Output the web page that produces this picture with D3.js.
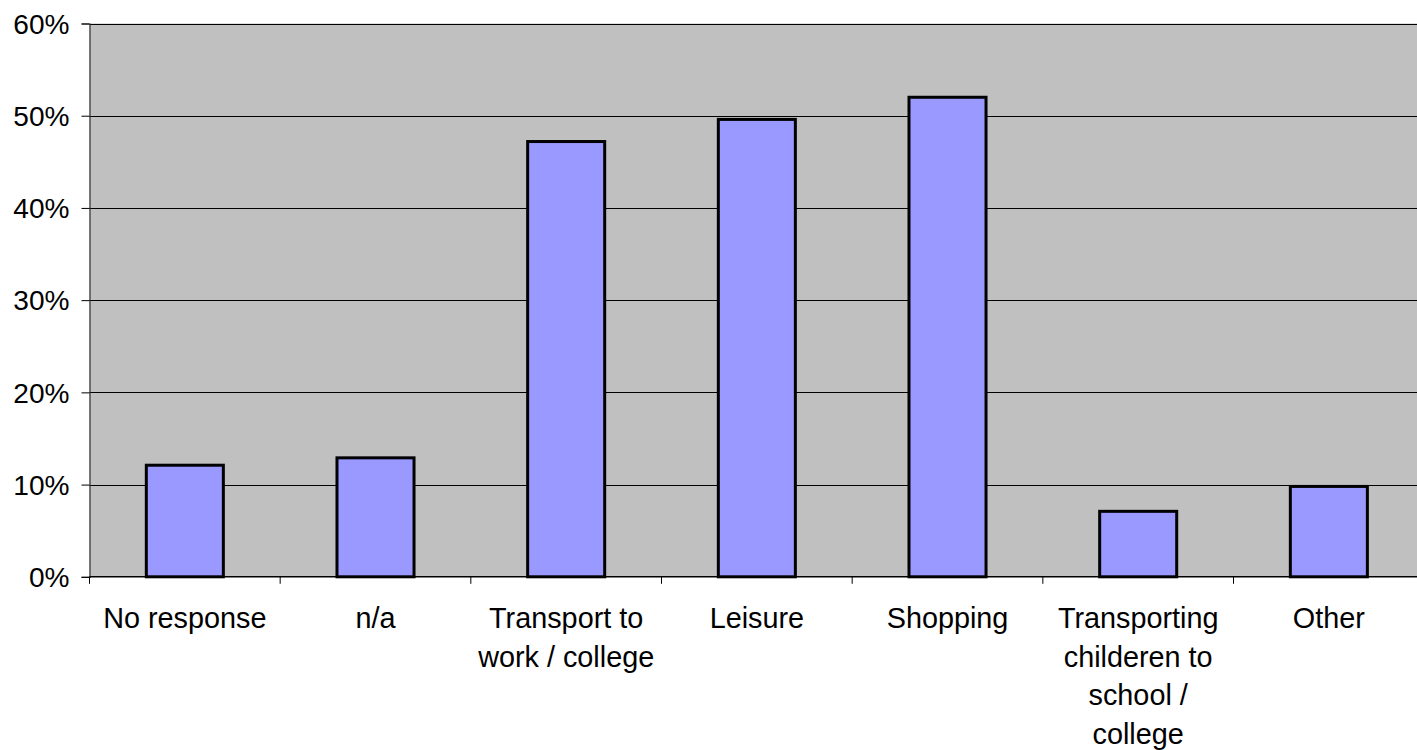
<!DOCTYPE html>
<html>
<head>
<meta charset="utf-8">
<script src="https://cdn.jsdelivr.net/npm/d3@7"></script>
<style>
  body { margin: 0; background: #fff; }
  svg { display: block; font-family: "Liberation Sans", Arial, sans-serif; }
</style>
</head>
<body>
<svg id="chart" width="1417" height="750"></svg>
<script>
"use strict"

// data
var categories = ["No response", "n/a", "Transport to work / college", "Leisure", "Shopping", "Transporting childeren to school / college", "Other"];
var shares = [12.1, 12.9, 47.2, 49.6, 52.0, 7.1, 9.8];
var yTicks = [0, 10, 20, 30, 40, 50, 60];

var svg = d3.select("#chart"),
    plotLeft = 89.5,
    plotTop = 23.5,
    plotBottom = 576.8,
    step = 190.67,
    plotRight = plotLeft + step * categories.length;

var x = d3.scaleBand().domain(categories).range([plotLeft, plotRight]).padding(0);
var y = d3.scaleLinear().domain([0, 60]).range([plotBottom, plotTop]);
var barW = x.bandwidth() * 0.404;

// plot area
svg.append("rect")
    .attr("x", plotLeft).attr("y", plotTop)
    .attr("width", plotRight - plotLeft).attr("height", plotBottom - plotTop)
    .style("fill", "#c0c0c0");

// gridlines
svg.append("g").selectAll("line")
    .data(yTicks.filter(function (d) { return d > 0; }))
    .join("line")
    .attr("x1", plotLeft).attr("x2", plotRight)
    .attr("y1", function (d) { return Math.round(y(d)) + 0.5; })
    .attr("y2", function (d) { return Math.round(y(d)) + 0.5; })
    .style("stroke", "#000").style("stroke-width", 1);

// bars
svg.append("g").selectAll("rect")
    .data(categories)
    .join("rect")
    .attr("x", function (d) { return x(d) + (x.bandwidth() - barW) / 2; })
    .attr("y", function (d, i) { return y(shares[i]); })
    .attr("width", barW)
    .attr("height", function (d, i) { return y(0) - y(shares[i]); })
    .style("fill", "#9999ff")
    .style("stroke", "#000")
    .style("stroke-width", 3);

// y axis
var yAxis = svg.append("g")
    .attr("transform", "translate(" + plotLeft + ",0)")
    .call(d3.axisLeft(y).tickValues(yTicks).tickSize(8).tickFormat(function (d) { return d + "%"; }));
yAxis.select(".domain").style("stroke", "#333").style("stroke-width", 1.2);
yAxis.selectAll(".tick line").style("stroke", "#000");
yAxis.selectAll(".tick text")
    .attr("x", 0)
    .attr("dy", "0.36em")
    .attr("transform", "translate(-20,0) scale(1.04,1)")
    .style("font-size", "27px")
    .style("fill", "#000");

// x axis baseline
svg.append("line")
    .attr("x1", plotLeft).attr("x2", plotRight)
    .attr("y1", plotBottom).attr("y2", plotBottom)
    .style("stroke", "#000").style("stroke-width", 1.5);

// category boundary ticks
svg.append("g").selectAll("line")
    .data(categories.map(function (d) { return x(d); }).concat([plotRight]))
    .join("line")
    .attr("x1", function (d) { return d; }).attr("x2", function (d) { return d; })
    .attr("y1", plotBottom).attr("y2", plotBottom + 7)
    .style("stroke", "#000");

// category labels
var xAxis = svg.append("g")
    .attr("transform", "translate(0," + plotBottom + ")")
    .call(d3.axisBottom(x).tickSize(0).tickPadding(0));
xAxis.select(".domain").remove();
xAxis.selectAll(".tick text")
    .style("font-size", "28.8px")
    .style("fill", "#000")
    .call(wrap, 186);

function wrap(texts, width) {
    texts.each(function () {
        var text = d3.select(this),
            words = text.text().split(/\s+/),
            lines = [],
            line = [];
        text.text(null);
        var probe = text.append("tspan");
        words.forEach(function (w) {
            line.push(w);
            probe.text(line.join(" "));
            if (probe.node().getComputedTextLength() > width && line.length > 1) {
                line.pop();
                lines.push(line.join(" "));
                line = [w];
            }
        });
        lines.push(line.join(" "));
        probe.remove();
        lines.forEach(function (l, i) {
            text.append("tspan")
                .attr("x", 0)
                .attr("y", 51.5 + i * 38.5)
                .text(l);
        });
        text.attr("dy", null);
    });
}
</script>
</body>
</html>
